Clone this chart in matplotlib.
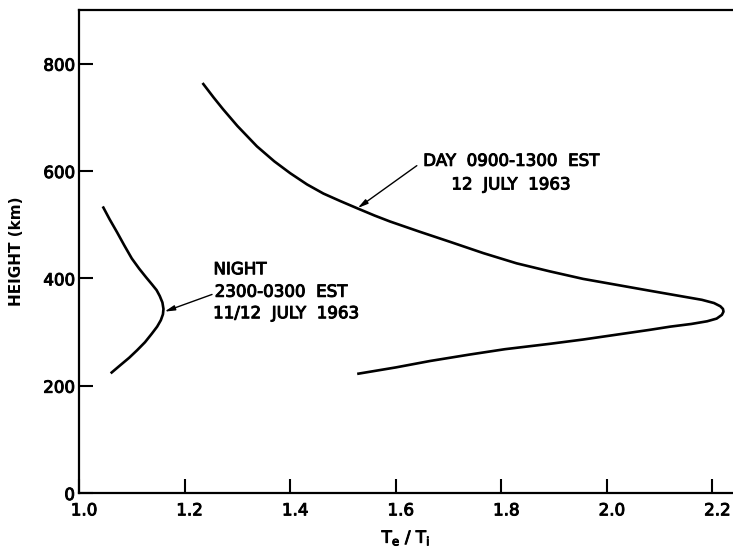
import numpy as np
import matplotlib.pyplot as plt
import matplotlib.patheffects as pe
from matplotlib.transforms import ScaledTranslation

night_ratio = [1.045, 1.058, 1.072, 1.086, 1.100, 1.114, 1.127, 1.138, 1.147, 1.153, 1.158,
               1.160, 1.159, 1.155, 1.148, 1.138, 1.125, 1.110, 1.095, 1.078, 1.060]
night_height = [534, 510, 486, 461, 437, 418, 402, 389, 378, 367, 355,
                343, 333, 322, 310, 297, 281, 266, 252, 238, 223]

day_ratio = [1.234, 1.255, 1.273, 1.300, 1.337, 1.370, 1.400, 1.432, 1.463, 1.495, 1.526,
             1.560, 1.589, 1.645, 1.703, 1.766, 1.829, 1.892, 1.955, 2.018, 2.081,
             2.145, 2.180, 2.203, 2.215, 2.220, 2.221, 2.218, 2.208, 2.190, 2.160,
             2.120, 2.081, 2.018, 1.955, 1.892, 1.807, 1.740, 1.665, 1.600, 1.527]
day_height = [764, 737, 715, 684, 646, 618, 596, 575, 558, 544, 531,
              517, 506, 487, 468, 447, 428, 413, 399, 388, 377,
              366, 360, 354, 348, 343, 338, 332, 325, 320, 315,
              310, 304, 295, 286, 278, 268, 258, 246, 234, 222]

xticks = [1.0, 1.2, 1.4, 1.6, 1.8, 2.0, 2.2]
yticks = [0, 200, 400, 600, 800]

plt.rcParams['font.family'] = 'DejaVu Sans'
ink = [pe.withStroke(linewidth=0.7, foreground='black')]

fig = plt.figure(figsize=(7.33, 5.5), dpi=100)
ax = fig.add_axes([0.1078, 0.1036, 0.8922, 0.8782])

ax.plot(night_ratio, night_height, color='black', lw=1.9, solid_capstyle='butt')
ax.plot(day_ratio, day_height, color='black', lw=1.9, solid_capstyle='butt')

ax.set_xlim(1.0, 2.239)
ax.set_ylim(0, 900)
ax.set_xticks(xticks)
ax.set_xticklabels(['%.1f' % v for v in xticks])
ax.set_yticks(yticks)
ax.tick_params(direction='in', length=10, width=1.5, labelsize=12, pad=6)
ax.tick_params(axis='y', pad=3)
for lab in ax.get_xticklabels() + ax.get_yticklabels():
    lab.set_path_effects(ink)
# x labels sit a little to the right of their ticks
shift = ScaledTranslation(5 / 100, 0, fig.dpi_scale_trans)
for lab in ax.get_xticklabels():
    lab.set_transform(lab.get_transform() + shift)
for s in ['left', 'bottom', 'top']:
    ax.spines[s].set_linewidth(1.6)
ax.spines['right'].set_visible(False)

ax.set_xlabel(r'T$_\mathrm{e}$ / T$_\mathrm{i}$', fontsize=12, labelpad=6, path_effects=ink)
ax.set_ylabel('HEIGHT (km)', fontsize=11, fontweight='bold', labelpad=14)

# labels with arrows to the curves
arrow = dict(arrowstyle='-|>,head_length=0.6,head_width=0.15',
             color='black', lw=1.0, shrinkA=0, shrinkB=0)
ax.annotate('', xy=(1.528, 531), xytext=(1.640, 610), arrowprops=arrow)
ax.text(1.818, 619, 'DAY  0900-1300  EST', ha='center', va='center',
        fontsize=12, path_effects=ink)
ax.text(1.818, 575, '12  JULY  1963', ha='center', va='center',
        fontsize=12, path_effects=ink)

ax.annotate('', xy=(1.162, 338), xytext=(1.252, 370), arrowprops=arrow)
ax.text(1.305, 417, 'NIGHT', ha='center', va='center', fontsize=12, path_effects=ink)
ax.text(1.382, 375, '2300-0300  EST', ha='center', va='center',
        fontsize=12, path_effects=ink)
ax.text(1.392, 335, '11/12  JULY  1963', ha='center', va='center',
        fontsize=12, path_effects=ink)

fig.savefig('out.png', dpi=100)
